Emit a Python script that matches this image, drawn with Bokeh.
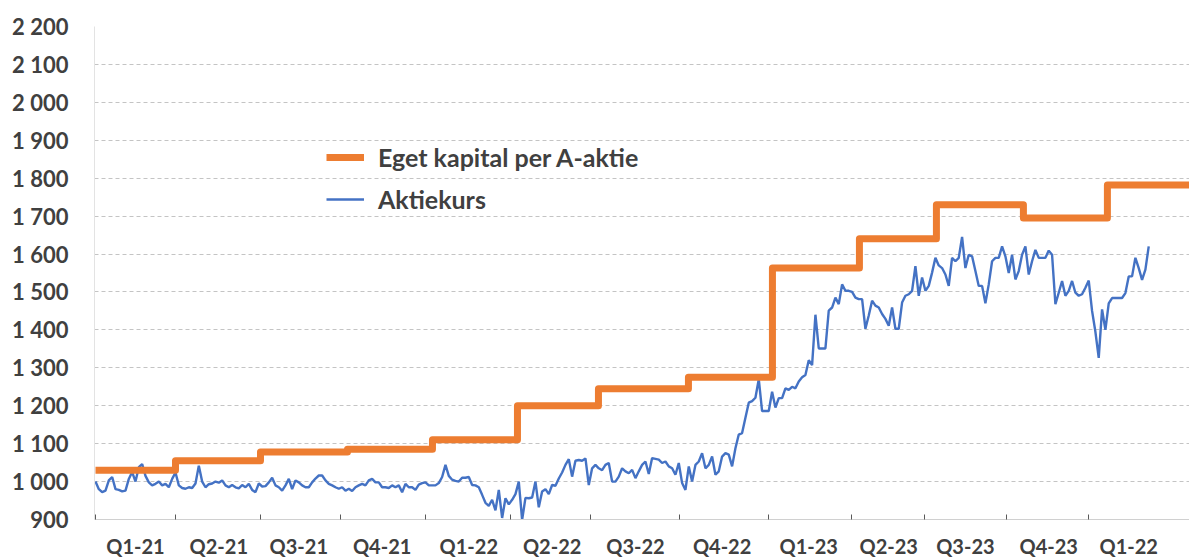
from bokeh.plotting import figure
from bokeh.models import Range1d, FixedTicker, Legend, LegendItem
from bokeh.embed import file_html
from bokeh.resources import INLINE

# ---- data -------------------------------------------------------------
quarter_labels = ["Q1-21", "Q2-21", "Q3-21", "Q4-21", "Q1-22", "Q2-22", "Q3-22",
                  "Q4-22", "Q1-23", "Q2-23", "Q3-23", "Q4-23", "Q1-22"]
# x unit = observation number of the share-price series
quarter_bounds = [0, 24, 49.5, 73.5, 99, 124.5, 148.5, 175.2, 201.9, 226.8, 248.7, 273.3, 297.9]
label_pos = [12, 37, 61, 86, 112, 137, 162, 188, 214, 238, 261, 286, 310]

equity_per_share = [1030, 1055, 1078, 1085, 1110, 1200, 1245, 1275, 1563, 1640, 1730, 1695, 1782]
equity_change_at = [0, 24.0, 49.5, 75.6, 101.1, 126.6, 150.9, 177.9, 203.1, 229.2, 252.3, 278.4, 303.6]

share_price = [
    1000, 980, 972, 976, 1003, 1012, 980, 978, 974, 976,
    1007, 1025, 1000, 1038, 1046, 1015, 998, 990, 994, 1000,
    990, 994, 985, 1007, 1024, 990, 983, 981, 985, 983,
    995, 1042, 1000, 985, 993, 995, 1000, 997, 1003, 990,
    985, 991, 985, 982, 991, 985, 994, 978, 972, 995,
    987, 988, 998, 1010, 990, 985, 976, 990, 1007, 980,
    1003, 998, 990, 985, 985, 998, 1008, 1016, 1016, 1003,
    994, 990, 985, 981, 985, 976, 981, 975, 985, 990,
    994, 990, 1003, 1007, 998, 998, 985, 985, 983, 990,
    985, 990, 972, 994, 985, 985, 978, 992, 996, 998,
    990, 990, 990, 996, 1012, 1044, 1015, 1005, 1002, 1000,
    1010, 1010, 1012, 991, 990, 985, 965, 944, 936, 952,
    924, 978, 904, 956, 940, 952, 967, 1000, 899, 957,
    956, 958, 1000, 932, 974, 980, 967, 991, 989, 1008,
    1024, 1044, 1059, 1013, 1055, 1057, 1055, 1061, 991,
    1035, 1044, 1035, 1030, 1044, 1049, 1000, 1000, 1013, 1035,
    1027, 1022, 1031, 1009, 1027, 1044, 1053, 1020, 1062, 1060,
    1058, 1049, 1053, 1040, 1035, 1018, 1049, 996, 978, 1040,
    1000, 1044, 1053, 1075, 1035, 1044, 1066, 1018, 1027, 1066,
    1075, 1071, 1040, 1088, 1124, 1128, 1168, 1208, 1212, 1221,
    1270, 1186, 1186, 1186,
    1237, 1195, 1220, 1220, 1246, 1242, 1250, 1246, 1264, 1275,
    1281, 1320, 1307, 1440, 1351, 1351, 1351, 1451, 1459, 1485,
    1468, 1520, 1503, 1503, 1500, 1485, 1481, 1481, 1403, 1438,
    1477, 1464, 1459, 1442, 1429, 1411, 1459, 1403, 1403, 1472,
    1490, 1494, 1503, 1568, 1490, 1538, 1503, 1516, 1551, 1590,
    1570, 1563, 1546, 1516, 1590, 1581, 1590, 1645, 1563, 1598,
    1594, 1555, 1516, 1516, 1470, 1520, 1581, 1590, 1590, 1620,
    1594, 1550, 1598, 1533, 1555, 1598, 1620, 1546, 1581, 1611,
    1590, 1590, 1590, 1609, 1598, 1468, 1498, 1529, 1490, 1503,
    1529, 1498, 1490, 1494, 1511, 1530, 1450,
    1395, 1326, 1454, 1400, 1470, 1484, 1484, 1484, 1484, 1497,
    1541, 1541, 1590, 1563, 1532, 1559, 1620,
]

y_ticks = list(range(900, 2201, 100))

# ---- figure -----------------------------------------------------------
FONT = "Lato"
TXT = "#404040"
X_START = -0.3
X_END = X_START + (1189 - 94) / 3.333

p = figure(width=1189, height=560, output_backend="svg", toolbar_location=None,
           x_range=Range1d(X_START, X_END), y_range=Range1d(900, 2200),
           min_border_left=94, min_border_right=0, min_border_top=26, min_border_bottom=39)
p.outline_line_color = None
p.background_fill_color = "white"
p.border_fill_color = "white"

x_price = list(range(len(share_price)))
r_price = p.line(x_price, share_price, line_color="#4472C4", line_width=2.4)

r_eq = p.step(equity_change_at + [X_END], equity_per_share + [equity_per_share[-1]],
              mode="after", line_color="#ED7D31", line_width=7, line_join="round")

# y axis
p.yaxis.ticker = FixedTicker(ticks=y_ticks)
p.yaxis.major_label_overrides = {v: f"{v:,}".replace(",", " ") for v in y_ticks}
p.yaxis.major_tick_in = 0
p.yaxis.major_tick_out = 0
p.yaxis.minor_tick_in = 0
p.yaxis.minor_tick_out = 0
p.yaxis.axis_line_color = "#e3e3e3"
p.yaxis.major_label_standoff = 26
p.yaxis.major_label_text_font = FONT
p.yaxis.major_label_text_font_style = "bold"
p.yaxis.major_label_text_font_size = "22px"
p.yaxis.major_label_text_color = TXT

# x axis
p.xaxis.ticker = FixedTicker(ticks=label_pos, minor_ticks=quarter_bounds)
p.xaxis.major_label_overrides = {pos: lab for pos, lab in zip(label_pos, quarter_labels)}
p.xaxis.major_tick_in = 0
p.xaxis.major_tick_out = 0
p.xaxis.minor_tick_in = 5
p.xaxis.minor_tick_out = 0
p.xaxis.minor_tick_line_color = "#595959"
p.xaxis.minor_tick_line_width = 1
p.xaxis.axis_line_color = "#d0d0d0"
p.xaxis.major_label_standoff = 14
p.xaxis.major_label_text_font = FONT
p.xaxis.major_label_text_font_style = "bold"
p.xaxis.major_label_text_font_size = "20px"
p.xaxis.major_label_text_color = TXT

# grid
p.xgrid.visible = False
p.ygrid.ticker = FixedTicker(ticks=y_ticks[1:])
p.ygrid.grid_line_color = "#c4c4c4"
p.ygrid.grid_line_dash = "4 3"
p.ygrid.grid_line_width = 1

# legend
legend = Legend(items=[LegendItem(label="Eget kapital per A-aktie", renderers=[r_eq]),
                       LegendItem(label="Aktiekurs", renderers=[r_price])],
                location=(232, 305))
legend.border_line_color = None
legend.background_fill_alpha = 0
legend.padding = 0
legend.margin = 0
legend.spacing = 12
legend.glyph_width = 38
legend.glyph_height = 28
legend.label_height = 28
legend.label_standoff = 14
legend.label_text_font = FONT
legend.label_text_font_style = "bold"
legend.label_text_font_size = "25px"
legend.label_text_color = TXT
p.add_layout(legend)

open("out.html", "w").write(file_html(p, INLINE))
